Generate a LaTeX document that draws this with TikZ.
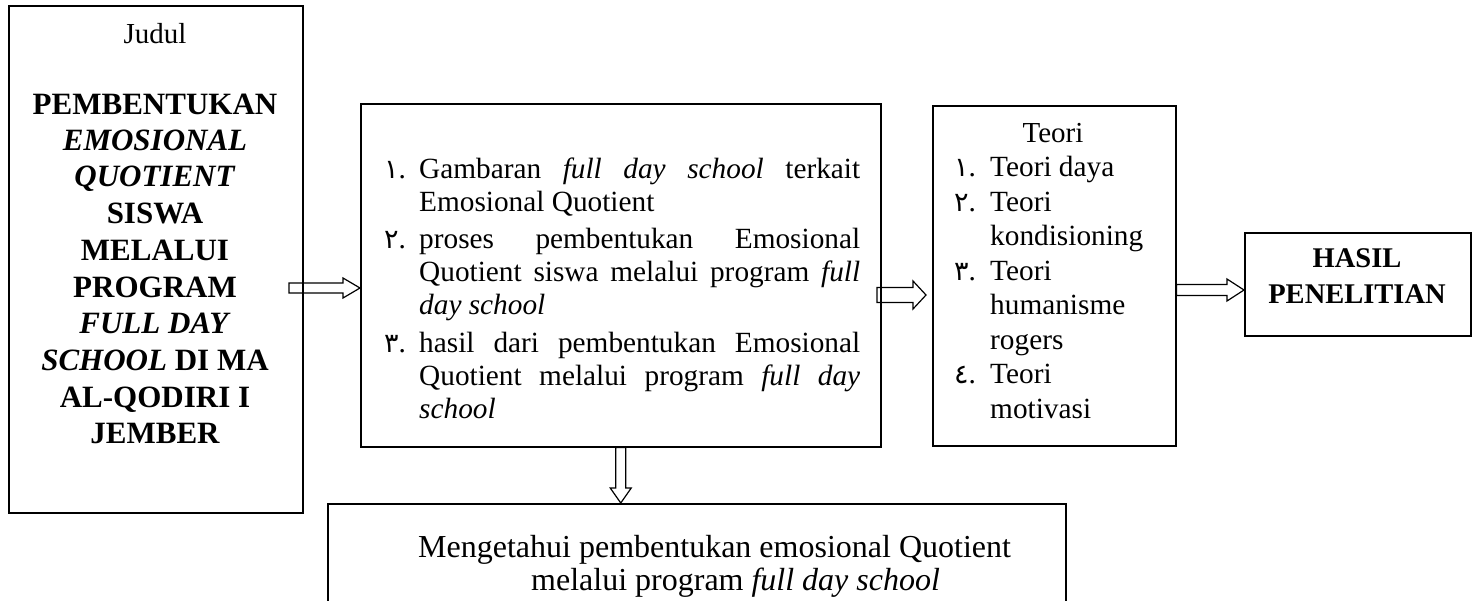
\documentclass[tikz,border=0pt]{standalone}
\usepackage{fontspec}
\setmainfont{Liberation Serif}
\newfontfamily\arabicfont[Script=Arabic]{DejaVu Sans}
\usetikzlibrary{calc}
\newcommand\an[1]{{\arabicfont\fontsize{27}{30}\selectfont #1}}
\newcommand\hblock[5]{%
 \draw[barrow] let \p1=(#1), \p2=(#2) in
  (\x1,\y2+#3) -- (\x2-#5,\y2+#3) -- (\x2-#5,\y2+#4) -- (\x2,\y2) --
  (\x2-#5,\y2-#4) -- (\x2-#5,\y2-#3) -- (\x1,\y2-#3) -- cycle;}
\newcommand\vblock[5]{%
 \draw[barrow] let \p1=(#1), \p2=(#2) in
  (\x2+#3,\y1) -- (\x2+#3,\y2+#5) -- (\x2+#4,\y2+#5) -- (\x2,\y2) --
  (\x2-#4,\y2+#5) -- (\x2-#3,\y2+#5) -- (\x2-#3,\y1) -- cycle;}
\tikzset{
 box/.style={draw, line width=1.5pt, inner sep=0pt, anchor=north west},
 barrow/.style={draw, line width=1.2pt, line join=miter},
 tl/.style={inner sep=0pt, anchor=base west, font=\fontsize{29.3}{33}\selectfont},
 tc/.style={inner sep=0pt, anchor=base, font=\fontsize{29}{33}\selectfont},
 jb/.style={inner sep=0pt, anchor=base, font=\fontsize{31}{36}\selectfont\bfseries},
 hb/.style={inner sep=0pt, anchor=base, font=\fontsize{28.5}{34}\selectfont\bfseries},
 bt/.style={inner sep=0pt, anchor=base west, font=\fontsize{32}{36}\selectfont},
}
\begin{document}
\begin{tikzpicture}[x=1pt,y=-1pt]
\useasboundingbox (0,0) rectangle (1475,600);
\clip (0,0) rectangle (1475,600);
% boxes
\node[box, minimum width=294pt, minimum height=507pt] (judul) at (8,5) {};
\node[box, minimum width=520pt, minimum height=343pt] (mid) at (360,103) {};
\node[box, minimum width=243pt, minimum height=340pt] (teori) at (932,105) {};
\node[box, minimum width=226pt, minimum height=103pt] (hasil) at (1244,232) {};
\node[box, minimum width=738pt, minimum height=120pt] (bottom) at (327,503) {};
% judul text
\node[tc] (j0) at (155,43) {Judul};
\node[jb] (j1) at (155,114) {PEMBENTUKAN};
\node[jb] (j2) at (155,150) {\textit{EMOSIONAL}};
\node[jb] (j3) at (155,186) {\textit{QUOTIENT}};
\node[jb] (j4) at (155,223) {SISWA};
\node[jb] (j5) at (155,260) {MELALUI};
\node[jb] (j6) at (155,297) {PROGRAM};
\node[jb] (j7) at (155,333) {\textit{FULL DAY}};
\node[jb] (j8) at (155,370) {\textit{SCHOOL} DI MA};
\node[jb] (j9) at (155,407) {AL-QODIRI I};
\node[jb] (j10) at (155,443) {JEMBER};
% middle text
\node[tl] (n1) at (384,178) {\an{١}.};
\node[tl] (m1) at (419,178) {\makebox[441pt][s]{Gambaran \textit{full day school} terkait}};
\node[tl] (m2) at (419,211) {Emosional Quotient};
\node[tl] (n2) at (384,248) {\an{٢}.};
\node[tl] (m3) at (419,248) {\makebox[441pt][s]{proses pembentukan Emosional}};
\node[tl] (m4) at (419,281) {\makebox[441pt][s]{Quotient siswa melalui program \textit{full}}};
\node[tl] (m5) at (419,314) {\textit{day school}};
\node[tl] (n3) at (384,352) {\an{٣}.};
\node[tl] (m6) at (419,352) {\makebox[441pt][s]{hasil dari pembentukan Emosional}};
\node[tl] (m7) at (419,385) {\makebox[441pt][s]{Quotient melalui program \textit{full day}}};
\node[tl] (m8) at (419,418) {\textit{school}};
% teori text
\node[tc] (t0) at (1053,142) {Teori};
\node[tl] (tn1) at (954,176.5) {\an{١}.};
\node[tl] (t1) at (990,176.5) {Teori daya};
\node[tl] (tn2) at (954,211) {\an{٢}.};
\node[tl] (t2) at (990,211) {Teori};
\node[tl] (t3) at (990,245.5) {kondisioning};
\node[tl] (tn3) at (954,280) {\an{٣}.};
\node[tl] (t4) at (990,280) {Teori};
\node[tl] (t5) at (990,314.5) {humanisme};
\node[tl] (t6) at (990,349) {rogers};
\node[tl] (tn4) at (954,383.5) {\an{٤}.};
\node[tl] (t7) at (990,383.5) {Teori};
\node[tl] (t8) at (990,418) {motivasi};
% hasil text
\node[hb] (h1) at (1357,267) {HASIL};
\node[hb] (h2) at (1357,303) {PENELITIAN};
% bottom text
\node[bt] (b1) at (418,557) {Mengetahui pembentukan emosional Quotient};
\node[bt] (b2) at (531,590) {melalui program \textit{full day school}};
% arrows
\coordinate (a1s) at (289,288);
\coordinate (a1t) at (mid.west |- a1s);
\hblock{a1s}{a1t}{5pt}{10pt}{17pt}
\coordinate (a2s) at (877,295);
\coordinate (a2t) at ($(teori.west |- a2s)+(-6,0)$);
\hblock{a2s}{a2t}{7.5pt}{14pt}{13pt}
\coordinate (a3s) at (teori.east |- 0,290);
\coordinate (a3t) at (hasil.west |- a3s);
\hblock{a3s}{a3t}{5.5pt}{11pt}{17pt}
\coordinate (a4t) at (mid.south |- bottom.north);
\vblock{mid.south}{a4t}{5pt}{10.5pt}{15pt}
\end{tikzpicture}
\end{document}
